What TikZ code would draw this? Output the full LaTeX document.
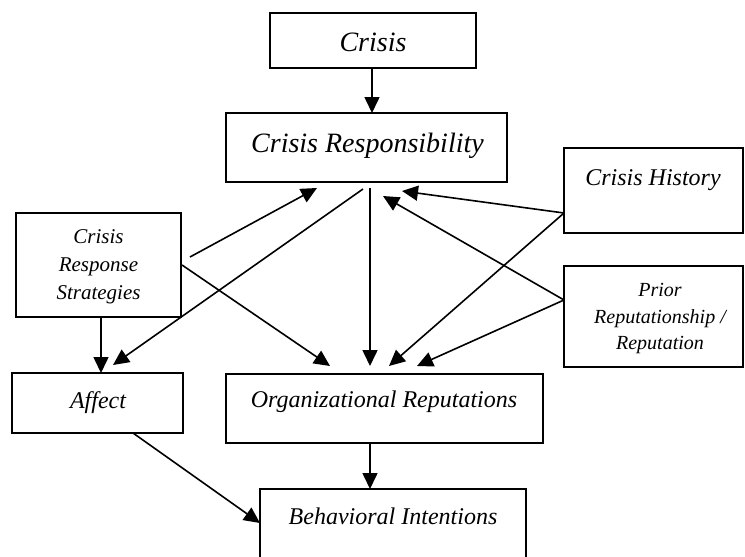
\documentclass[tikz,border=0pt]{standalone}
\usepackage{fontspec}
\setmainfont{Liberation Serif}
\usetikzlibrary{arrows.meta}
\begin{document}
\begin{tikzpicture}[x=1pt,y=-1pt,
  box/.style={draw=black, line width=2pt, inner sep=0pt, outer sep=0pt, rectangle},
  lbl/.style={inner sep=0pt, anchor=base, font=\itshape\fontsize{24}{28}\selectfont},
  link/.style={line width=1.6pt, -{Triangle[length=16pt,width=15pt]}}]
  \useasboundingbox (0,0) rectangle (745,557);
  \clip (0,0) rectangle (745,557);

  % boxes
  \node[box, minimum width=206pt, minimum height=55pt]  (crisis) at (373,40.5) {};
  \node[box, minimum width=281pt, minimum height=69pt]  (resp)   at (366.5,147.5) {};
  \node[box, minimum width=179pt, minimum height=85pt]  (hist)   at (653.5,190.5) {};
  \node[box, minimum width=165pt, minimum height=104pt] (crs)    at (98.5,265) {};
  \node[box, minimum width=179pt, minimum height=101pt] (prior)  at (653.5,316.5) {};
  \node[box, minimum width=171pt, minimum height=60pt]  (affect) at (97.5,403) {};
  \node[box, minimum width=317pt, minimum height=69pt]  (org)    at (384.5,408) {};
  \node[box, minimum width=266pt, minimum height=81pt]  (behav)  at (393,529.5) {};

  % labels
  \node[lbl, font=\itshape\fontsize{28}{32}\selectfont] (tcrisis) at (373,51) {Crisis};
  \node[lbl, font=\itshape\fontsize{28}{32}\selectfont] (tresp) at (367.5,152) {Crisis Responsibility};
  \node[lbl] (thist) at (653,185) {Crisis History};
  \node[inner sep=0pt, align=center, font=\itshape\fontsize{21}{28}\selectfont] (tcrs) at (98.5,267) {Crisis\\Response\\Strategies};
  \node[inner sep=0pt, align=center, font=\itshape\fontsize{20}{26.5}\selectfont] (tprior) at (660,319) {Prior\\Reputationship /\\Reputation};
  \node[lbl] (taffect) at (98,408) {Affect};
  \node[lbl] (torg) at (384,407) {Organizational Reputations};
  \node[lbl] (tbehav) at (393,524) {Behavioral Intentions};

  % connector end points
  \coordinate (crsA)     at (190,257);
  \coordinate (respIn1)  at (317,188);
  \coordinate (respOutL) at (363,189);
  \coordinate (affIn)    at (113,365);
  \coordinate (respOutC) at (370,188);
  \coordinate (orgIn1)   at (370,366);
  \coordinate (crsB)     at (182,265);
  \coordinate (orgIn0)   at (330,366);
  \coordinate (histOut)  at (564,213);
  \coordinate (orgIn2)   at (389,366);
  \coordinate (respIn3)  at (402,191);
  \coordinate (priorOut) at (564,300);
  \coordinate (respIn2)  at (383,196);
  \coordinate (orgIn3)   at (417,366);
  \coordinate (affOut)   at (133,433);
  \coordinate (behIn)    at (260,523);

  % connectors
  \draw[link] (crisis.south -| 372,0) -- (resp.north -| 372,0);
  \draw[link] (crsA) -- (respIn1);
  \draw[link] (respOutL) -- (affIn);
  \draw[link] (respOutC) -- (orgIn1);
  \draw[link] (crsB) -- (orgIn0);
  \draw[link] (histOut) -- (orgIn2);
  \draw[link] (histOut) -- (respIn3);
  \draw[link] (priorOut) -- (respIn2);
  \draw[link] (priorOut) -- (orgIn3);
  \draw[link] (affOut) -- (behIn);
  \draw[link] (org.south -| orgIn1) -- (behav.north -| orgIn1);
  \draw[link] (crs.south -| 101,0) -- (affect.north -| 101,0);
\end{tikzpicture}
\end{document}
